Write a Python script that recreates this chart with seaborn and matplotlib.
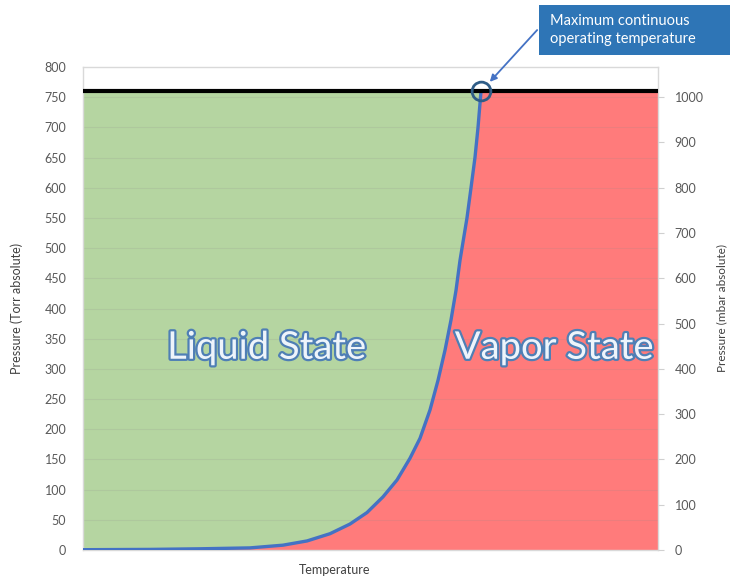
import numpy as np
import pandas as pd
import matplotlib
matplotlib.use("Agg")
import matplotlib.pyplot as plt
import matplotlib.patheffects as pe
from matplotlib.patches import Rectangle
import seaborn as sns

# Vapor pressure curve (relative temperature units, pressure in Torr)
temperature = [0, 11.65, 20.35, 29.04, 34.78, 38.96, 42.96, 46.43, 49.39,
               52.17, 54.61, 56.87, 58.61, 60.35, 61.74, 62.96, 64.0, 64.87,
               65.57, 66.26, 66.78, 67.48, 68.17, 68.70, 69.22]
pressure_torr = [0.5, 1, 2, 3.5, 8, 15, 27, 43, 62,
                 88, 116, 152, 185, 232, 281, 331, 381, 430,
                 480, 520, 550, 600, 650, 700, 760]
atmosphere_torr = 760
t_max = 100
left_ticks = list(range(0, 801, 50))
right_ticks = list(range(0, 1001, 100))
TORR_TO_MBAR = 1.33322

df = pd.DataFrame({"Temperature": temperature, "Pressure": pressure_torr})

sns.set_theme(style="white")
plt.rcParams["font.family"] = ["Lato", "DejaVu Sans"]

fig = plt.figure(figsize=(7.30, 5.79), dpi=100)
ax = fig.add_axes([83 / 730, 1 - 550 / 579, 575 / 730, 483 / 579])

green = "#b5d5a1"
red = "#ff7b7b"

# liquid region: left of the curve, up to atmospheric pressure
ax.fill_between(df["Temperature"], df["Pressure"], atmosphere_torr,
                color=green, lw=0, zorder=1)
# vapor region: right of the curve
t_ext = temperature + [t_max]
p_ext = pressure_torr + [atmosphere_torr]
ax.fill_between(t_ext, 0, p_ext, color=red, lw=0, zorder=1)

# horizontal gridlines
for v in left_ticks[1:-1]:
    ax.axhline(v, color="#8a8a8a", lw=0.8, alpha=0.16, zorder=2)

sns.lineplot(data=df, x="Temperature", y="Pressure", ax=ax, color="#4472c4",
             lw=2.4, zorder=4, solid_joinstyle="round", solid_capstyle="round")
ax.axhline(atmosphere_torr, color="black", lw=3, zorder=5)

# max continuous operating temperature marker
ax.plot([temperature[-1]], [pressure_torr[-1]], marker="o", ms=13.5,
        mfc="none", mec="#2f5d87", mew=2, zorder=6, clip_on=False)

ax.set_xlim(0, t_max)
ax.set_ylim(0, 800)
ax.set_yticks(left_ticks)
ax.set_xticks([])
ax.tick_params(axis="y", labelsize=9, colors="#595959", length=0, pad=12)
for s in ax.spines.values():
    s.set_color("#d9d9d9")
    s.set_linewidth(1)
ax.set_xlabel("Temperature", fontsize=9, color="#404040")
ax.xaxis.set_label_coords((335 - 83) / 575, -0.028)
ax.set_ylabel("Pressure (Torr absolute)", fontsize=9, color="#404040")
ax.yaxis.set_label_coords(-0.104, 0.5)

ax2 = ax.twinx()
ax2.set_ylim(0, 800 * TORR_TO_MBAR)
ax2.set_yticks(right_ticks)
ax2.tick_params(axis="y", labelsize=9, colors="#595959", length=4,
                width=0.8, pad=8)
ax2.tick_params(axis="y", color="#d0d0d0")
for s in ax2.spines.values():
    s.set_visible(False)
ax2.set_ylabel("Pressure (mbar absolute)", fontsize=8.5, color="#404040")
ax2.yaxis.set_label_coords(1.102, 0.5)

# region labels
outline = [pe.withStroke(linewidth=3.2, foreground="#4f7fb5")]
ax.text(32, 335, "Liquid State", fontsize=27.5, color="#eef4fb",
        ha="center", va="center", path_effects=outline, zorder=7)
ax.text(82, 335, "Vapor State", fontsize=27.5, color="#eef4fb",
        ha="center", va="center", path_effects=outline, zorder=7)

# callout box
fig.patches.append(Rectangle((539 / 730, 1 - 55 / 579), 191 / 730, 50 / 579,
                             transform=fig.transFigure, fc="#2e75b6",
                             ec="none", zorder=10))
fig.text(550 / 730, 1 - 30 / 579, "Maximum continuous\noperating temperature",
         fontsize=10.5, color="white", ha="left", va="center",
         linespacing=1.45, zorder=11)
ax.annotate("", xy=(temperature[-1] + 1.2, pressure_torr[-1] + 12),
            xytext=(539 / 730, 1 - 28 / 579), textcoords="figure fraction",
            arrowprops=dict(arrowstyle="-|>", color="#4472c4", lw=1.3,
                            mutation_scale=10), annotation_clip=False, zorder=8)

fig.savefig("out.png", dpi=100)
